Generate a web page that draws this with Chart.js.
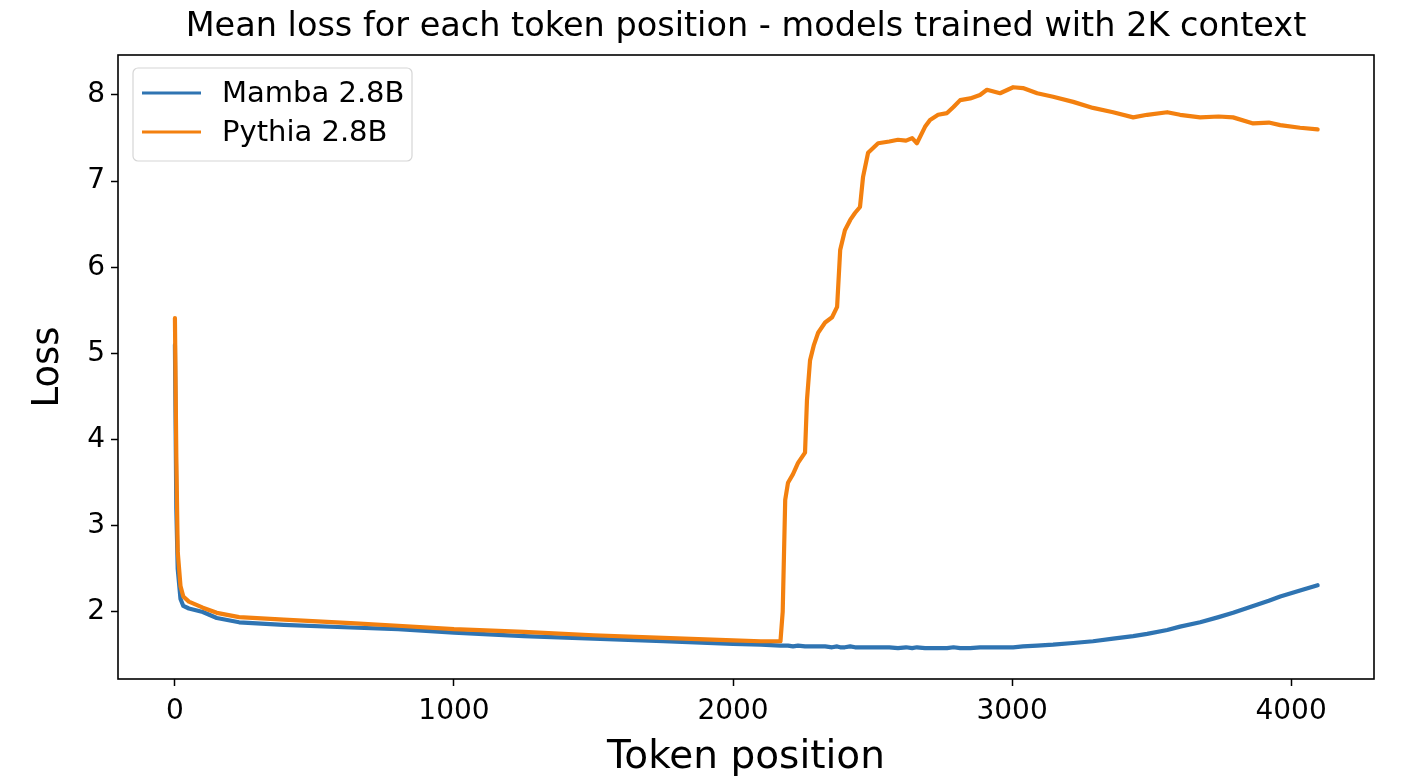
<!DOCTYPE html>
<html>
<head>
<meta charset="utf-8">
<title>Mean loss for each token position</title>
<script src="https://cdn.jsdelivr.net/npm/chart.js@4.4.1/dist/chart.umd.min.js"></script>
<style>
  html, body { margin: 0; padding: 0; background: #ffffff; }
  #lossChart { display: block; }
</style>
</head>
<body>
<canvas id="lossChart" width="1401" height="781"></canvas>
<script>
// token positions (denser where the curves bend)
const tokenPositions = [0, 5, 10, 20, 30, 50, 100, 150, 230, 390, 630, 800, 1000, 1250, 1500, 1750, 2000, 2100, 2170,
    2178, 2187, 2197, 2215, 2233, 2258, 2265, 2276, 2290, 2305, 2330, 2355, 2373, 2384, 2401, 2420, 2437, 2455, 2466,
    2484, 2520, 2560, 2591, 2620, 2642, 2659, 2688, 2706, 2735, 2767, 2790, 2814, 2850, 2885, 2910, 2957, 3004, 3039,
    3090, 3147, 3219, 3290, 3362, 3434, 3484, 3556, 3602, 3674, 3740, 3792, 3864, 3920, 3961, 4032, 4095];

// Mamba 2.8B mean loss
const mambaLoss = [5.10, 3.20, 2.50, 2.15, 2.07, 2.04, 2.00, 1.93, 1.88, 1.85, 1.82, 1.80, 1.76, 1.72, 1.69, 1.66, 1.63, 1.62, 1.61,
    1.61, 1.61, 1.61, 1.60, 1.61, 1.60, 1.60, 1.60, 1.60, 1.60, 1.60, 1.59, 1.60, 1.59, 1.59, 1.60, 1.59, 1.59, 1.59,
    1.59, 1.59, 1.59, 1.58, 1.59, 1.58, 1.59, 1.58, 1.58, 1.58, 1.58, 1.59, 1.58, 1.58, 1.59, 1.59, 1.59, 1.59, 1.60,
    1.61, 1.62, 1.64, 1.66, 1.69, 1.72, 1.745, 1.79, 1.83, 1.88, 1.94, 1.99, 2.07, 2.13, 2.18, 2.25, 2.31];

// Pythia 2.8B mean loss
const pythiaLoss = [5.41, 3.80, 2.70, 2.30, 2.18, 2.12, 2.05, 1.99, 1.94, 1.91, 1.87, 1.84, 1.80, 1.77, 1.73, 1.70, 1.67, 1.66, 1.66,
    2.00, 3.30, 3.50, 3.60, 3.73, 3.85, 4.46, 4.92, 5.10, 5.24, 5.36, 5.42, 5.54, 6.20, 6.43, 6.55, 6.63, 6.70, 7.05,
    7.33, 7.44, 7.46, 7.48, 7.47, 7.50, 7.44, 7.63, 7.71, 7.77, 7.79, 7.86, 7.94, 7.96, 8.00, 8.06, 8.02, 8.09, 8.08,
    8.02, 7.98, 7.92, 7.85, 7.80, 7.74, 7.77, 7.80, 7.77, 7.74, 7.75, 7.74, 7.67, 7.68, 7.65, 7.62, 7.60];

const seriesNames = ['Mamba 2.8B', 'Pythia 2.8B'];
const xTickValues = [0, 1000, 2000, 3000, 4000];
const yTickValues = [2, 3, 4, 5, 6, 7, 8];
const chartTitle = 'Mean loss for each token position - models trained with 2K context';
const xTitle = 'Token position';
const yTitle = 'Loss';

const FONT = "'DejaVu Sans', 'Liberation Sans', sans-serif";

function toPoints(xs, ys) {
    return xs.map((x, i) => ({ x: x, y: ys[i] }));
}

// black box round the plot, like matplotlib spines
const frameBox = {
    id: 'frameBox',
    afterDatasetsDraw(chart) {
        const a = chart.chartArea;
        const ctx = chart.ctx;
        ctx.save();
        ctx.strokeStyle = '#000000';
        ctx.lineWidth = 1.6;
        ctx.strokeRect(a.left, a.top, a.right - a.left, a.bottom - a.top);
        ctx.restore();
    }
};

// legend in the upper left corner, inside the axes
const innerLegend = {
    id: 'innerLegend',
    afterDraw(chart) {
        const ctx = chart.ctx;
        const a = chart.chartArea;
        const x0 = a.left + 15, y0 = a.top + 13;
        const w = 279, h = 93;
        ctx.save();
        ctx.beginPath();
        ctx.roundRect(x0, y0, w, h, 5);
        ctx.fillStyle = 'rgba(255,255,255,0.8)';
        ctx.fill();
        ctx.strokeStyle = '#d6d6d6';
        ctx.lineWidth = 1.2;
        ctx.stroke();
        ctx.font = '29px ' + FONT;
        ctx.textBaseline = 'middle';
        chart.data.datasets.forEach((ds, i) => {
            const yy = y0 + 25 + i * 39;
            ctx.beginPath();
            ctx.moveTo(x0 + 9, yy);
            ctx.lineTo(x0 + 68, yy);
            ctx.strokeStyle = ds.borderColor;
            ctx.lineWidth = 3;
            ctx.stroke();
            ctx.fillStyle = '#000000';
            ctx.fillText(ds.label, x0 + 89, yy + 1);
        });
        ctx.restore();
    }
};

const ctx = document.getElementById('lossChart').getContext('2d');
new Chart(ctx, {
    type: 'line',
    data: {
        datasets: [{
            label: seriesNames[0],
            data: toPoints(tokenPositions, mambaLoss),
            borderColor: '#2f74b2',
            borderWidth: 4.2,
            order: 1
        }, {
            label: seriesNames[1],
            data: toPoints(tokenPositions, pythiaLoss),
            borderColor: '#f3800f',
            borderWidth: 4.2,
            order: 0
        }]
    },
    options: {
        responsive: false,
        animation: false,
        events: [],
        layout: { padding: { left: 0, right: 27, top: 0, bottom: 0 } },
        elements: {
            point: { radius: 0 },
            line: { tension: 0, borderJoinStyle: 'round', borderCapStyle: 'round' }
        },
        plugins: {
            legend: { display: false },
            tooltip: { enabled: false },
            title: {
                display: true,
                text: chartTitle,
                fullSize: false,
                color: '#000000',
                font: { family: FONT, size: 33.5, weight: 'normal' },
                padding: { top: 7, bottom: 7.8 }
            }
        },
        scales: {
            x: {
                type: 'linear',
                min: -204,
                max: 4297,
                afterFit: (scale) => { scale.height = 102; },
                afterBuildTicks: (scale) => { scale.ticks = xTickValues.map(v => ({ value: v })); },
                border: { display: false },
                grid: { drawOnChartArea: false, drawTicks: true, tickLength: 7, tickColor: '#000000', tickWidth: 1.5 },
                ticks: {
                    autoSkip: false,
                    maxRotation: 0,
                    padding: 9,
                    color: '#000000',
                    font: { family: FONT, size: 28 },
                    callback: (v) => String(v)
                },
                title: {
                    display: true,
                    text: xTitle,
                    color: '#000000',
                    font: { family: FONT, size: 39 },
                    padding: { top: 0, bottom: 0 }
                }
            },
            y: {
                min: 1.222,
                max: 8.464,
                afterFit: (scale) => { scale.width = 118; },
                afterBuildTicks: (scale) => { scale.ticks = yTickValues.map(v => ({ value: v })); },
                border: { display: false },
                grid: { drawOnChartArea: false, drawTicks: true, tickLength: 7, tickColor: '#000000', tickWidth: 1.5 },
                ticks: {
                    autoSkip: false,
                    padding: 6,
                    color: '#000000',
                    font: { family: FONT, size: 28 },
                    callback: (v) => String(v)
                },
                title: {
                    display: true,
                    text: yTitle,
                    color: '#000000',
                    font: { family: FONT, size: 37 },
                    padding: { top: 26, bottom: 0 }
                }
            }
        }
    },
    plugins: [frameBox, innerLegend]
});
</script>
</body>
</html>
